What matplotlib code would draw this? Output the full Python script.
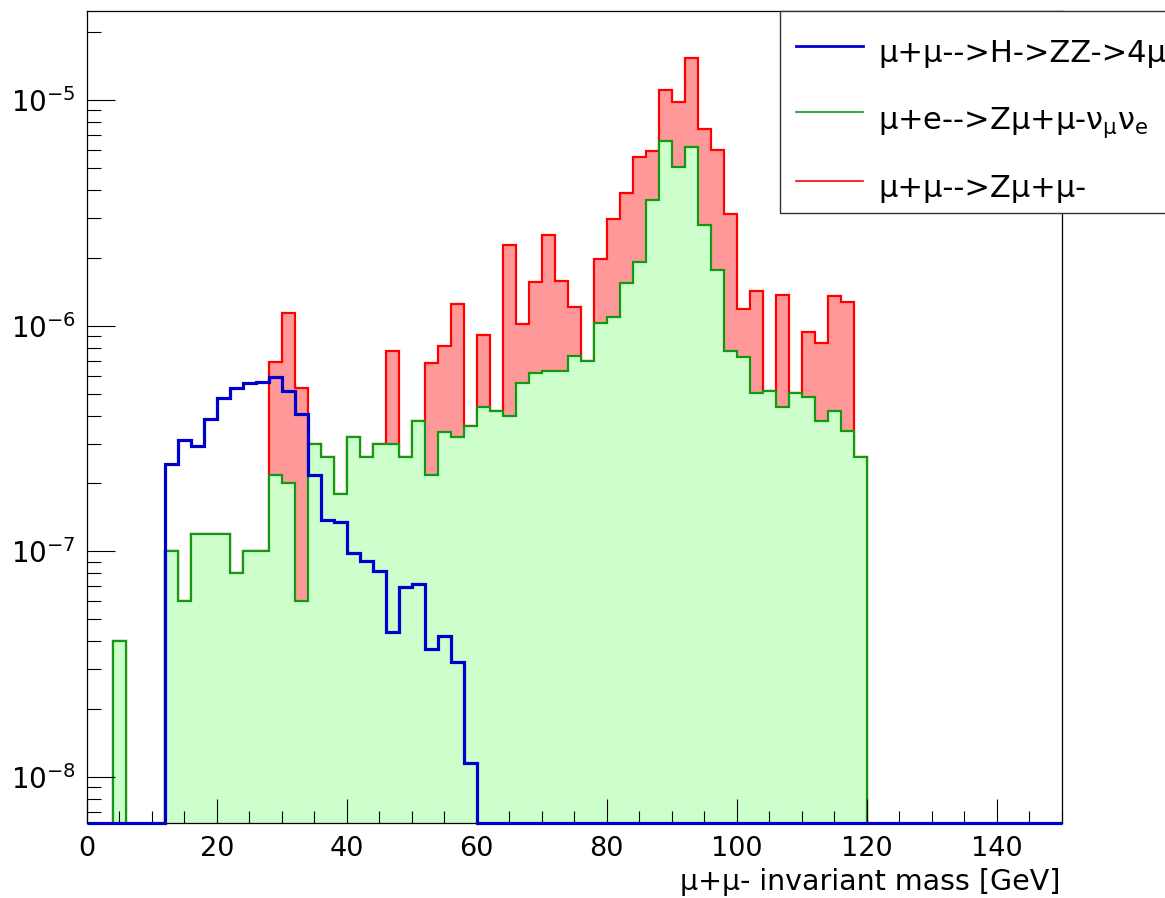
import numpy as np
import matplotlib
matplotlib.use("Agg")
from matplotlib import pyplot as plt
from matplotlib.patches import Rectangle
from matplotlib.lines import Line2D

# the original canvas is a bit stretched sideways, DejaVu Sans has close proportions
plt.rcParams['font.family'] = ['DejaVu Sans']
plt.rcParams['mathtext.fontset'] = 'dejavusans'

# binning : 75 bins of 2 GeV from 0 to 150
edges = np.arange(0, 152, 2)

# mu+mu- -> H -> ZZ -> 4mu
higgs = [0, 0, 0, 0, 0, 0,
         2.44e-7, 3.12e-7, 2.92e-7, 3.86e-7, 4.80e-7, 5.31e-7, 5.56e-7, 5.62e-7,
         5.90e-7, 5.15e-7, 4.05e-7, 2.18e-7, 1.38e-7, 1.35e-7, 9.8e-8, 9.1e-8,
         8.15e-8, 4.4e-8, 6.95e-8, 7.2e-8, 3.7e-8, 4.2e-8, 3.25e-8, 1.16e-8] + [0] * 45

# mu+e- -> Z mu+mu- nu nu (bottom of the stack)
zmue = [0, 0, 4.0e-8, 0, 0, 0,
        1.0e-7, 6.0e-8, 1.2e-7, 1.2e-7, 1.2e-7, 8.0e-8, 1.0e-7, 1.0e-7,
        2.18e-7, 2.0e-7, 6.0e-8, 2.98e-7, 2.61e-7, 1.80e-7, 3.21e-7, 2.61e-7,
        2.98e-7, 2.98e-7, 2.61e-7, 3.80e-7, 2.18e-7, 3.39e-7, 3.22e-7, 3.59e-7,
        4.38e-7, 4.21e-7, 3.99e-7, 5.56e-7, 6.16e-7, 6.33e-7, 6.33e-7, 7.35e-7,
        6.98e-7, 1.03e-6, 1.09e-6, 1.54e-6, 1.91e-6, 3.59e-6, 6.57e-6, 5.07e-6,
        6.18e-6, 2.79e-6, 1.77e-6, 7.74e-7, 7.25e-7, 5.02e-7, 5.16e-7, 4.38e-7,
        5.02e-7, 4.82e-7, 3.79e-7, 4.21e-7, 3.40e-7, 2.61e-7] + [0] * 15

# mu+mu- -> Z mu+mu- stacked on top (values = top of the stack)
zmumu_stack = [0, 0, 4.0e-8, 0, 0, 0,
               1.0e-7, 6.0e-8, 1.2e-7, 1.2e-7, 1.2e-7, 8.0e-8, 1.0e-7, 1.0e-7,
               6.9e-7, 1.14e-6, 5.3e-7, 2.98e-7, 2.61e-7, 1.80e-7, 3.21e-7, 2.61e-7,
               2.98e-7, 7.69e-7, 2.61e-7, 3.80e-7, 6.85e-7, 8.11e-7, 1.245e-6, 3.59e-7,
               9.08e-7, 4.21e-7, 2.27e-6, 1.02e-6, 1.56e-6, 2.52e-6, 1.57e-6, 1.21e-6,
               6.98e-7, 1.97e-6, 2.96e-6, 3.88e-6, 5.62e-6, 5.92e-6, 1.113e-5, 9.78e-6,
               1.54e-5, 7.42e-6, 6.01e-6, 3.12e-6, 1.19e-6, 1.43e-6, 5.16e-7, 1.37e-6,
               5.02e-7, 9.42e-7, 8.42e-7, 1.36e-6, 1.28e-6, 2.61e-7] + [0] * 15

labels = ["\u03bc+\u03bc-->H->ZZ->4\u03bc",
          "\u03bc+e-->Z\u03bc+\u03bc-\u03bd$_{\\mathrm{\u03bc}}$\u03bd$_{\\mathrm{e}}$",
          "\u03bc+\u03bc-->Z\u03bc+\u03bc-"]

ymin, ymax = 6.24e-9, 2.48e-5
tiny = 1e-14

W, H = 1165, 898
fig = plt.figure(figsize=(W / 100, H / 100), dpi=100)
ax = fig.add_axes([86.7 / W, 1 - 823.3 / H, (1061.7 - 86.7) / W, (823.3 - 11) / H])

red_v = np.where(np.array(zmumu_stack) > 0, zmumu_stack, tiny)
green_v = np.where(np.array(zmue) > 0, zmue, tiny)
blue_v = np.where(np.array(higgs) > 0, higgs, ymin)

ax.stairs(red_v, edges, baseline=tiny, fill=True, facecolor='#ff9999',
          edgecolor='none', zorder=1)
ax.stairs(red_v, edges, baseline=tiny, color='#ff0000', lw=1.6, zorder=1.1)
ax.stairs(green_v, edges, baseline=tiny, fill=True, facecolor='#ccffcc',
          edgecolor='none', zorder=1.2)
ax.stairs(green_v, edges, baseline=tiny, color='#119911', lw=1.6, zorder=1.3)
ax.stairs(blue_v, edges, baseline=None, color='#0000cc', lw=2.3, zorder=3,
          clip_on=False)

ax.set_yscale('log')
ax.set_xlim(0, 150)
ax.set_ylim(ymin, ymax)

ax.set_xticks(np.arange(0, 160, 20))
ax.set_xticks(np.arange(0, 151, 5), minor=True)
ax.tick_params(axis='x', which='major', direction='in', length=17, width=0.8,
               labelsize=19.5, pad=9)
ax.tick_params(axis='x', which='minor', direction='in', length=8.5, width=0.8)
ax.tick_params(axis='y', which='major', direction='in', length=20, width=0.8,
               labelsize=20, pad=8)
ax.tick_params(axis='y', which='minor', direction='in', length=10, width=0.8)
ax.tick_params(which='both', top=False, right=False)
for s in ax.spines.values():
    s.set_linewidth(0.9)

fig.text(1060.7 / W, 1 - 889.7 / H, "\u03bc+\u03bc- invariant mass [GeV]",
         ha='right', va='baseline', fontsize=20.5)

# legend box (runs past the right edge like the original)
fig.add_artist(Rectangle((780 / W, 1 - 213.3 / H), 400 / W, (213.3 - 10.7) / H,
                         transform=fig.transFigure, facecolor='white',
                         edgecolor='#333333', lw=1.0, zorder=5))
leg_cols = ['#0000cc', '#119911', '#ff0000']
leg_lw = [2.0, 1.2, 1.2]
leg_line_y = [45.7, 112, 180.7]
leg_base_y = [61.7, 128.5, 196.7]
for lab, c, lw_, ly, by in zip(labels, leg_cols, leg_lw, leg_line_y, leg_base_y):
    fig.add_artist(Line2D([796 / W, 863 / W], [1 - ly / H, 1 - ly / H],
                          transform=fig.transFigure, color=c, lw=lw_, zorder=6))
    fig.text(878 / W, 1 - by / H, lab, ha='left', va='baseline', fontsize=22,
             zorder=6)

fig.savefig("out.png", dpi=100)
